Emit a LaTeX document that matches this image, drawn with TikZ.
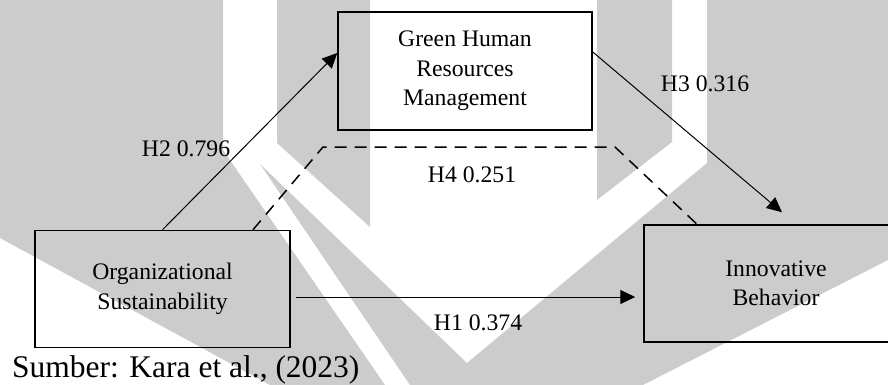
\documentclass[tikz,border=0pt]{standalone}
\usepackage{fontspec}
\setmainfont{Liberation Serif}
\usetikzlibrary{arrows.meta}
\definecolor{markgray}{RGB}{204,204,204}
\begin{document}
\begin{tikzpicture}[x=1pt,y=-1pt,
    box/.style={draw,line width=1.5pt,align=center,inner sep=0pt,
                font=\fontsize{23.7}{29.5}\selectfont},
    lbl/.style={anchor=base,inner sep=0pt,font=\fontsize{23.7}{29.5}\selectfont},
    hyp/.style={line width=1pt,-{Triangle[length=15pt,width=14pt]}},
    hypdash/.style={line width=1.5pt,dash pattern=on 12pt off 8pt}]
            \useasboundingbox (0,0) rectangle (888,385);
            \clip (0,0) rectangle (888,385);

            %Watermark
            \fill[markgray] (0,0) -- (223,0) -- (223,150) -- (385,385) -- (270,385) -- (0,238) -- cycle;
            \fill[markgray] (277,0) -- (370,0) -- (370,227) -- (277,143) -- cycle;
            \fill[markgray] (597,0) -- (672,0) -- (672,142) -- (597,200) -- cycle;
            \fill[markgray] (707,0) -- (888,0) -- (888,260) -- (643,385) -- (410,385)
                -- (260,164) -- (467,363) -- (707,163) -- cycle;

            %Nodes
            \node[box,minimum width=255pt,minimum height=117pt] at (162.5,289) (org) {Organizational\\Sustainability};
            \node[box,minimum width=254pt,minimum height=118pt] at (465,71) (ghrm) {Green Human\\Resources\\Management};
            \node[box,minimum width=264pt,minimum height=117pt] at (776,283.5) (innov) {Innovative\\Behavior};
            \node[lbl] at (186,157) (h2) {H2 0.796};
            \node[lbl] at (472,182) (h4) {H4 0.251};
            \node[lbl] at (705,92)  (h3) {H3 0.316};
            \node[lbl] at (478,330) (h1) {H1 0.374};
            \node[anchor=base west,inner sep=0pt,font=\fontsize{31.5}{38}\selectfont] at (12,377) (src) {Sumber: Kara et al., (2023)};
            \coordinate (h4l) at (323,147);
            \coordinate (h4r) at (615,147);

            %Lines
            \draw[hyp] (org.north) -- ([yshift=18pt]ghrm.west);
            \draw[hyp] ([yshift=19pt]ghrm.east) -- ([xshift=6pt,yshift=12pt]innov.north);
            \draw[hyp] ([xshift=5pt,yshift=-8pt]org.east) -- ([xshift=-8pt,yshift=-13.5pt]innov.west);
            \draw[hypdash] ([xshift=90.5pt]org.north) -- (h4l) -- (h4r) -- ([xshift=-79pt]innov.north);
        \end{tikzpicture}
\end{document}
